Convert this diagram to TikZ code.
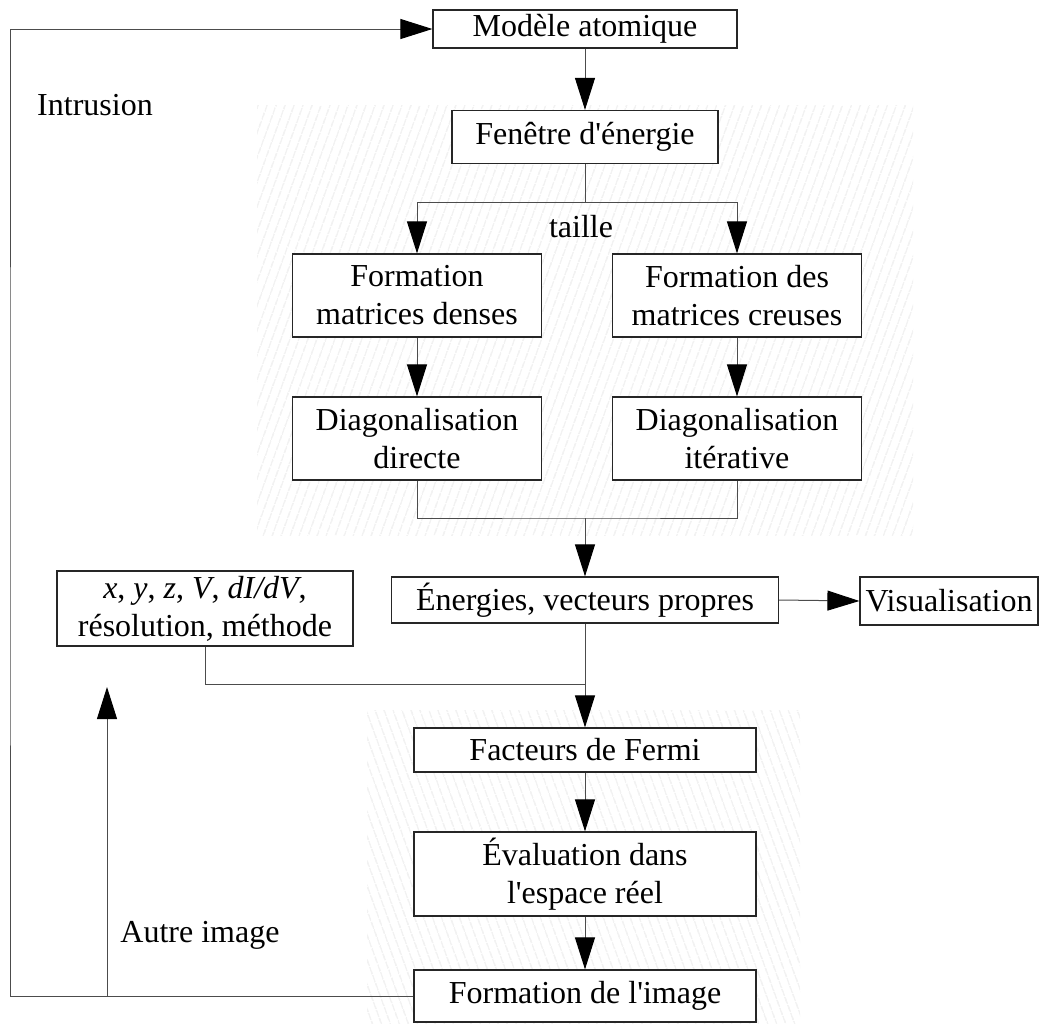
\documentclass[tikz,border=0pt]{standalone}
\usepackage{fontspec}
\setmainfont{LiberationSerif}[Extension=.ttf, UprightFont=*-Regular, ItalicFont=*-Italic, BoldFont=*-Bold, BoldItalicFont=*-BoldItalic]
\usetikzlibrary{arrows.meta,patterns.meta}
\tikzset{
  box/.style={draw=black!85, line width=0.6pt, fill=white, inner sep=0pt, align=center,
    font=\fontsize{16pt}{19pt}\selectfont},
  lbl/.style={inner sep=0pt, font=\fontsize{16pt}{19pt}\selectfont},
  conn/.style={draw=black!70, line width=0.5pt},
  arr/.style={conn, -{Triangle[length=16pt,width=10pt,color=black]}},
  shadeA/.style={pattern={Lines[angle=70,distance=4pt,line width=0.3pt]}, pattern color=gray!28},
  shadeB/.style={pattern={Lines[angle=110,distance=4pt,line width=0.3pt]}, pattern color=gray!28},
}
\begin{document}
\begin{tikzpicture}[x=0.5pt,y=-0.5pt]
\useasboundingbox (0,0) rectangle (1041,1024);
% shaded backgrounds
\fill[shadeA] (257,105) rectangle (913,535);
\fill[shadeB] (367,710) rectangle (800,1024);
% nodes
\node[box, minimum width=152pt, minimum height=19pt] (model) at (585,29) {Modèle atomique};
\node[box, minimum width=133pt, minimum height=26.5pt] (fen) at (585,137) {Fenêtre d\textquotesingle énergie};
\node[box, minimum width=124.5pt, minimum height=41.5pt] (fmd) at (417,295.5) {Formation\\matrices denses};
\node[box, minimum width=124.5pt, minimum height=41.5pt] (fmc) at (737,295.5) {Formation des\\matrices creuses};
\node[box, minimum width=124.5pt, minimum height=41.5pt] (dd) at (417,438.5) {Diagonalisation\\directe};
\node[box, minimum width=124.5pt, minimum height=41.5pt] (di) at (737,438.5) {Diagonalisation\\itérative};
\node[box, minimum width=193.5pt, minimum height=23pt] (ev) at (585,600) {Énergies, vecteurs propres};
\node[box, minimum width=89pt, minimum height=24pt] (vis) at (949,601) {Visualisation};
\node[box, minimum width=148pt, minimum height=37.5pt] (xyz) at (205,608.5) {\textit{x}, \textit{y}, \textit{z}, \textit{V}, \textit{dI/dV},\\résolution, méthode};
\node[box, minimum width=171pt, minimum height=22pt] (ff) at (585,750) {Facteurs de Fermi};
\node[box, minimum width=171pt, minimum height=42pt] (eval) at (585,874) {Évaluation dans\\l\textquotesingle espace réel};
\node[box, minimum width=171pt, minimum height=26pt] (fimg) at (585,996) {Formation de l\textquotesingle image};
% labels
\node[lbl] (intr) at (95,105) {Intrusion};
\node[lbl] (autre) at (200,935) {Autre image};
\node[lbl] (taille) at (581,227) {taille};
% coordinates
\coordinate (split) at (585,202);
\coordinate (join) at (585,518);
\coordinate (merge) at (585,684);
\coordinate (loopx) at (10,500);
\coordinate (br) at (107,996);
\coordinate (uptip) at (107,687);
% connectors
\draw[arr] (model.south) -- (fen.north);
\draw[conn] (fen.south) -- (split);
\draw[arr] (split) -| (fmd.north);
\draw[arr] (split) -| (fmc.north);
\draw[arr] (fmd.south) -- (dd.north);
\draw[arr] (fmc.south) -- (di.north);
\draw[conn] (dd.south) |- (join) -| (di.south);
\draw[arr] (join) -- (ev.north);
\draw[arr] (ev.east) -- (vis.west);
\draw[arr] (ev.south) -- (ff.north);
\draw[conn] (xyz.south) |- (merge);
\draw[arr] (ff.south) -- (eval.north);
\draw[arr] (eval.south) -- (fimg.north);
\draw[arr] (fimg.west) -| (loopx) |- (model.west);
\draw[arr] (br) -- (uptip);
\end{tikzpicture}
\end{document}
